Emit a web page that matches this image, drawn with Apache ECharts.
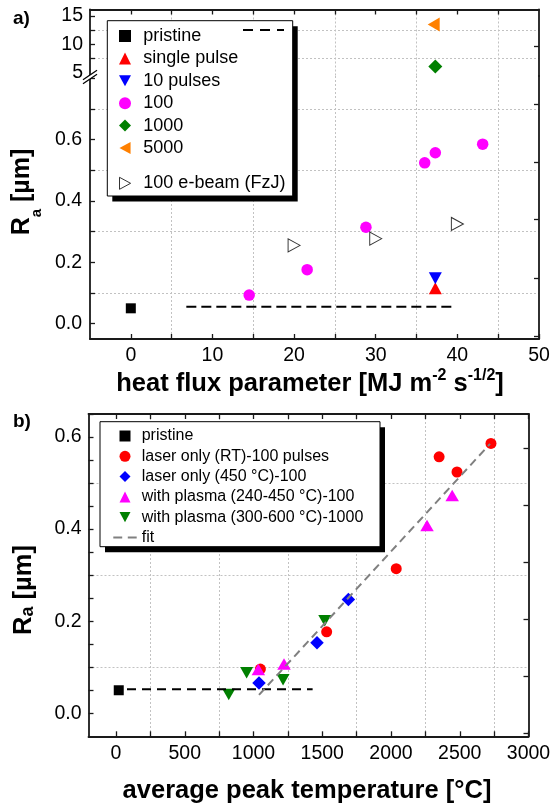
<!DOCTYPE html>
<html>
<head>
<meta charset="utf-8">
<script src="https://cdn.jsdelivr.net/npm/echarts@6/dist/echarts.min.js"></script>
<style>
  html, body { margin: 0; padding: 0; background: #fff; }
  #chart { width: 551px; height: 808px; }
</style>
</head>
<body>
<div id="chart"></div>
<script>
// ---- Panel a: roughness vs heat flux parameter ----
const fluxTicks = [0, 10, 20, 30, 40, 50];
const raTicksA = [0, 0.2, 0.4, 0.6];
const raTicksUpper = [5, 10, 15];
const pristineA = [[0, 0.05]];
const singlePulse = [[37.3, 0.115]];
const tenPulses = [[37.3, 0.148]];
const pulses100 = [[14.5, 0.093], [21.6, 0.176], [28.8, 0.314], [36.0, 0.524], [37.3, 0.557], [43.1, 0.585]];
const pulses1000 = [[37.3, 6.07]];
const pulses5000 = [[37.1, 13.5]];
const ebeam100 = [[20, 0.255], [30, 0.277], [40, 0.325]];
const pristineLevelA = [[6.8, 0.055], [39.6, 0.055]];

// ---- Panel b: roughness vs average peak temperature ----
const tempTicks = [0, 500, 1000, 1500, 2000, 2500, 3000];
const raTicksB = [0, 0.2, 0.4, 0.6];
const pristineB = [[20, 0.05]];
const laserRT = [[1050, 0.096], [1532, 0.177], [2038, 0.314], [2350, 0.557], [2480, 0.524], [2727, 0.586]];
const laser450 = [[1040, 0.066], [1462, 0.153], [1690, 0.247]];
const plasma240 = [[1035, 0.095], [1222, 0.107], [2262, 0.408], [2445, 0.473]];
const plasma300 = [[820, 0.041], [950, 0.088], [1215, 0.073], [1518, 0.201]];
const fitLine = [[1040, 0.04], [2720, 0.585]];
const pristineLevelB = [[80, 0.052], [1430, 0.052]];

const FONT = "'Liberation Sans', Arial, sans-serif";
const AX = '#1a1a1a';
const GRIDC = '#c2c2c2';

function steps(a, b, s) {
  const r = [];
  for (let v = a; v <= b + 1e-9; v += s) r.push(+v.toFixed(6));
  return r;
}

// visible axis: line, inward ticks, optional labels
function mainAxis(o) {
  const ax = {
    type: 'value', gridIndex: o.grid, position: o.pos, min: o.min, max: o.max,
    axisLine: { show: true, onZero: false, lineStyle: { color: AX, width: 1.8 } },
    axisTick: { show: !!o.ticks, inside: true, length: 5, lineStyle: { color: AX, width: 1.3 } },
    axisLabel: { show: !!o.labels, margin: o.margin || 8, color: '#000', fontSize: 19.5, fontFamily: FONT },
    splitLine: { show: false },
    z: 5
  };
  if (o.ticks) ax.axisTick.customValues = o.ticks;
  if (o.labels) ax.axisLabel.customValues = o.labels;
  ax.axisLabel.formatter = o.fmt || (v => String(v));
  return ax;
}
// invisible axis that only carries the dotted grid lines
function gridAxis(o) {
  return {
    type: 'value', gridIndex: o.grid, position: o.pos, min: o.min, max: o.max,
    axisLine: { show: false, onZero: false }, axisLabel: { show: false },
    axisTick: { show: false, customValues: o.lines },
    splitLine: { show: true, lineStyle: { color: GRIDC, width: 1, type: [2, 2] } }
  };
}

const fmt1 = v => v.toFixed(1);

const xAxis = [
  mainAxis({ grid: 0, pos: 'bottom', min: -5, max: 50, labels: fluxTicks, ticks: steps(0, 50, 5), margin: 7 }),
  gridAxis({ grid: 0, pos: 'bottom', min: -5, max: 50, lines: [5, 15, 25, 35, 45] }),
  mainAxis({ grid: 1, pos: 'top', min: -5, max: 50, ticks: steps(0, 45, 5) }),
  gridAxis({ grid: 1, pos: 'bottom', min: -5, max: 50, lines: [5, 15, 25, 35, 45] }),
  mainAxis({ grid: 2, pos: 'bottom', min: -200, max: 3000, labels: tempTicks, ticks: steps(0, 3000, 250), margin: 7 }),
  gridAxis({ grid: 2, pos: 'bottom', min: -200, max: 3000, lines: [250, 750, 1250, 1750, 2250, 2750] }),
  mainAxis({ grid: 2, pos: 'top', min: -200, max: 3000, ticks: steps(0, 3000, 250) })
];

const yAxis = [
  mainAxis({ grid: 0, pos: 'left', min: -0.05, max: 0.807, labels: raTicksA, ticks: steps(0, 0.8, 0.1), fmt: fmt1, margin: 8 }),
  gridAxis({ grid: 0, pos: 'left', min: -0.05, max: 0.807, lines: [0.1, 0.3, 0.5, 0.7] }),
  mainAxis({ grid: 0, pos: 'right', min: -0.05, max: 0.807, ticks: [-0.04, 0.148, 0.34, 0.526, 0.715] }),
  mainAxis({ grid: 1, pos: 'left', min: 4.4, max: 16.15, labels: raTicksUpper, ticks: [7.5, 10, 12.5, 15], margin: 7 }),
  gridAxis({ grid: 1, pos: 'left', min: 4.4, max: 16.15, lines: [7.5, 12.5] }),
  mainAxis({ grid: 1, pos: 'right', min: 4.4, max: 16.15, ticks: [9.57] }),
  mainAxis({ grid: 2, pos: 'left', min: -0.05, max: 0.65, labels: raTicksB, ticks: steps(0, 0.65, 0.05), fmt: fmt1, margin: 7 }),
  gridAxis({ grid: 2, pos: 'left', min: -0.05, max: 0.65, lines: [0.1, 0.3, 0.5] }),
  mainAxis({ grid: 2, pos: 'right', min: -0.05, max: 0.65, ticks: [-0.043, 0.08, 0.204, 0.328, 0.4515, 0.575] })
];

function scatter(name, data, xi, yi, symbol, size, color, rot, extra) {
  return Object.assign({
    type: 'scatter', name, data, xAxisIndex: xi, yAxisIndex: yi,
    symbol, symbolSize: size, symbolRotate: rot || 0,
    itemStyle: { color, opacity: 1 }, z: 2, silent: true
  }, extra || {});
}
function dashed(name, data, xi, yi, color, dash, width) {
  return {
    type: 'line', name, data, xAxisIndex: xi, yAxisIndex: yi,
    symbol: 'none', showSymbol: false, silent: true, z: 3,
    itemStyle: { color }, lineStyle: { color, width, type: dash }
  };
}

const series = [
  // panel a, lower segment
  scatter('pristine', pristineA, 0, 0, 'rect', 10, '#000'),
  scatter('single pulse', singlePulse, 0, 0, 'triangle', [13, 12], '#ff0000'),
  scatter('10 pulses', tenPulses, 0, 0, 'triangle', [13, 12], '#0000ff', 180),
  scatter('100', pulses100, 0, 0, 'circle', 11.5, '#ff00ff'),
  scatter('100 e-beam (FzJ)', ebeam100, 0, 0, 'triangle', [13, 12], '#ffffff', -90,
    { itemStyle: { color: '#ffffff', borderColor: '#000', borderWidth: 1 } }),
  dashed('pristine level', pristineLevelA, 0, 0, '#000', [10, 5], 2),
  // panel a, upper segment
  scatter('1000', pulses1000, 2, 3, 'diamond', 14, '#008000'),
  scatter('5000', pulses5000, 2, 3, 'triangle', [14, 12], '#ff8000', 90),
  // panel b
  scatter('pristine', pristineB, 4, 6, 'rect', 10, '#000'),
  scatter('laser only (RT)-100 pulses', laserRT, 4, 6, 'circle', 11, '#ff0000'),
  scatter('laser only (450 °C)-100', laser450, 4, 6, 'diamond', 13.5, '#0000ff'),
  scatter('with plasma (240-450 °C)-100', plasma240, 4, 6, 'triangle', [13.5, 11.5], '#ff00ff'),
  scatter('with plasma (300-600 °C)-1000', plasma300, 4, 6, 'triangle', [13, 11.5], '#008000', 180),
  dashed('pristine level b', pristineLevelB, 4, 6, '#000', [9, 6], 2),
  dashed('fit', fitLine, 4, 6, '#808080', [8, 5], 2)
];

// legend icons for the rotated triangles
const ICON_DOWN = 'path://M0,0L13,0L6.5,12Z';
const ICON_LEFT = 'path://M12,0L12,13L0,6.5Z';
const ICON_RIGHT = 'path://M0,0L12,6.5L0,13Z';

// text after a small spacer so the label starts where it should
function legendText(size, gap) {
  return {
    color: '#000', fontFamily: FONT, fontSize: size, lineHeight: size + 2,
    rich: { sp: { width: gap, fontSize: size, lineHeight: size + 2 }, t: { fontSize: size, lineHeight: size + 2, color: '#000', fontFamily: FONT } }
  };
}
const spaced = name => '{sp| }{t|' + name + '}';
const legendBase = {
  orient: 'vertical', padding: 0, selectedMode: false, z: 10,
  backgroundColor: 'transparent', borderWidth: 0
};

const legend = [
  Object.assign({}, legendBase, {
    data: ['pristine', 'single pulse', { name: '10 pulses', icon: ICON_DOWN }, '100', '1000', { name: '5000', icon: ICON_LEFT }],
    left: 119, top: 26, itemWidth: 12, itemHeight: 12, itemGap: 2.4,
    textStyle: legendText(18, 7.3), formatter: spaced
  }),
  Object.assign({}, legendBase, {
    data: [{ name: '100 e-beam (FzJ)', icon: ICON_RIGHT, itemStyle: { color: '#fff', borderColor: '#000', borderWidth: 1 } }],
    left: 119, top: 173.3, itemWidth: 12, itemHeight: 12,
    textStyle: legendText(18, 7.3), formatter: spaced
  }),
  Object.assign({}, legendBase, {
    data: [{ name: 'pristine level', icon: 'path://M0,0H10V2H0Z M17,0H27V2H17Z M34,0H41V2H34Z', itemStyle: { color: '#000', borderWidth: 0 } }],
    left: 243, top: 29, itemWidth: 41, itemHeight: 12, formatter: () => '',
    textStyle: { fontSize: 10, lineHeight: 12 }
  }),
  Object.assign({}, legendBase, {
    data: ['pristine', 'laser only (RT)-100 pulses', 'laser only (450 °C)-100',
      'with plasma (240-450 °C)-100', { name: 'with plasma (300-600 °C)-1000', icon: ICON_DOWN }],
    left: 119.5, top: 427, itemWidth: 11, itemHeight: 11, itemGap: 2.3,
    textStyle: legendText(16, 6.2), formatter: spaced
  }),
  Object.assign({}, legendBase, {
    data: [{ name: 'fit', icon: 'path://M0,0H8V2H0Z M13,0H21V2H13Z', itemStyle: { color: '#808080', borderWidth: 0 } }],
    left: 113.3, top: 528.5, itemWidth: 23.4, itemHeight: 11,
    textStyle: { color: '#000', fontFamily: FONT, fontSize: 16, lineHeight: 18 }
  })
];

// text measuring for composed titles with sub/superscripts
const mctx = document.createElement('canvas').getContext('2d');
function textWidth(t, size) {
  mctx.font = `bold ${size}px ${FONT}`;
  return mctx.measureText(t).width;
}
function titleGroup(pieces, ox, oy, rotation) {
  const widths = pieces.map(p => textWidth(p.t, p.s));
  const total = widths.reduce((a, b) => a + b, 0);
  let x = -total / 2;
  const children = pieces.map((p, i) => {
    const el = {
      type: 'text', x: x, y: (p.dy || 0) - 0.3465 * p.s,
      style: { text: p.t, font: `bold ${p.s}px ${FONT}`, fill: '#000', align: 'left', verticalAlign: 'middle' }
    };
    x += widths[i];
    return el;
  });
  return { type: 'group', x: ox, y: oy, rotation: rotation || 0, children, z: 10, silent: true };
}
function legendBox(x, y, w, h) {
  return [
    { type: 'rect', shape: { x: x + 5, y: y + 5.5, width: w, height: h }, style: { fill: '#000' }, z: 3, silent: true },
    { type: 'rect', shape: { x: x, y: y, width: w, height: h }, style: { fill: '#fff', stroke: '#000', lineWidth: 1 }, z: 3, silent: true }
  ];
}

const graphic = [
  ...legendBox(107.3, 20.7, 185.4, 175.3),
  ...legendBox(100, 421.7, 280, 125),
  { type: 'text', x: 13, y: 19, style: { text: 'a)', font: `bold 19px ${FONT}`, fill: '#000', verticalAlign: 'middle' }, z: 10 },
  { type: 'text', x: 13, y: 422, style: { text: 'b)', font: `bold 19px ${FONT}`, fill: '#000', verticalAlign: 'middle' }, z: 10 },
  // axis break on the left axis of panel a
  { type: 'polygon', shape: { points: [[84, 79], [96, 71], [96, 75], [84, 83]] }, style: { fill: '#fff' }, z: 10, silent: true },
  { type: 'line', shape: { x1: 83, y1: 79.7, x2: 97, y2: 70.3 }, style: { stroke: '#000', lineWidth: 1.3 }, z: 11, silent: true },
  { type: 'line', shape: { x1: 83, y1: 83.7, x2: 97, y2: 74.3 }, style: { stroke: '#000', lineWidth: 1.3 }, z: 11, silent: true },
  // axis titles
  titleGroup([
    { t: 'heat flux parameter [MJ m', s: 25.5 },
    { t: '-2', s: 16, dy: -12.5 },
    { t: ' s', s: 25.5 },
    { t: '-1/2', s: 16, dy: -12.5 },
    { t: ']', s: 25.5 }
  ], 310, 393.3),
  titleGroup([{ t: 'average peak temperature [°C]', s: 25.5 }], 307, 800),
  titleGroup([
    { t: 'R', s: 25 },
    { t: 'a', s: 15, dy: 11 },
    { t: ' [µm]', s: 25 }
  ], 31, 192, Math.PI / 2),
  titleGroup([
    { t: 'R', s: 25.5 },
    { t: 'a', s: 18, dy: 1.5 },
    { t: ' [µm]', s: 25.5 }
  ], 33, 590, Math.PI / 2)
];

const option = {
  animation: false,
  backgroundColor: '#fff',
  textStyle: { fontFamily: FONT },
  grid: [
    { left: 90, right: 12, top: 76, height: 263, outerBoundsMode: 'none', containLabel: false },
    { left: 90, right: 12, top: 9.5, height: 66.5, outerBoundsMode: 'none', containLabel: false },
    { left: 88.5, right: 22.5, top: 414, height: 322.3, outerBoundsMode: 'none', containLabel: false }
  ],
  xAxis, yAxis, series, legend, graphic
};

const chart = echarts.init(document.getElementById('chart'), null, { renderer: 'canvas', width: 551, height: 808 });
chart.setOption(option);
</script>
</body>
</html>
